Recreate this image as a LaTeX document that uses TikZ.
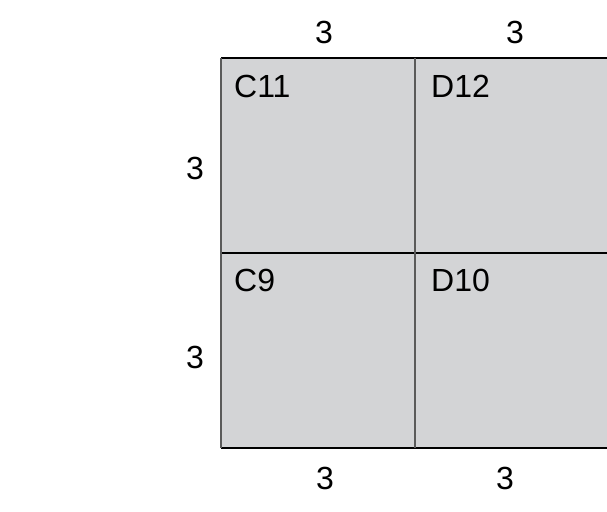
\documentclass[tikz,border=0pt]{standalone}
\usepackage{fontspec}
\setmainfont{Liberation Sans}
\definecolor{cellfill}{HTML}{D3D4D6}
\definecolor{vline}{HTML}{5A5A5A}
\begin{document}
\begin{tikzpicture}[x=1pt,y=-1pt,
  dim/.style={font=\fontsize{32}{32}\selectfont, inner sep=0pt, anchor=base},
  lbl/.style={font=\fontsize{32}{32}\selectfont, inner sep=0pt, anchor=base west},
  hline/.style={draw=black, line width=1.3pt},
  vedge/.style={draw=vline, line width=1.3pt}]
\useasboundingbox (0,0) rectangle (607,511);
% grid corners
\coordinate (tl) at (221,58);
\coordinate (tm) at (415,58);
\coordinate (tr) at (609,58);
\coordinate (ml) at (221,253);
\coordinate (mm) at (415,253);
\coordinate (mr) at (609,253);
\coordinate (bl) at (221,448);
\coordinate (bm) at (415,448);
\coordinate (br) at (609,448);
\fill[cellfill] (tl) rectangle (br);
\draw[hline] (tl) -- (tr);
\draw[hline] (ml) -- (mr);
\draw[hline] (bl) -- (br);
\draw[vedge] (tl) -- (bl);
\draw[vedge] (tm) -- (bm);
% cell labels
\node[lbl] (c11) at (234,97) {C11};
\node[lbl] (d12) at (431,97) {D12};
\node[lbl] (c9) at (234,291) {C9};
\node[lbl] (d10) at (431,291) {D10};
% dimension labels
\node[dim] (t1) at (324,44) {3};
\node[dim] (t2) at (515,44) {3};
\node[dim] (l1) at (195,179) {3};
\node[dim] (l2) at (195,368) {3};
\node[dim] (b1) at (325,489) {3};
\node[dim] (b2) at (505,489) {3};
\end{tikzpicture}
\end{document}
